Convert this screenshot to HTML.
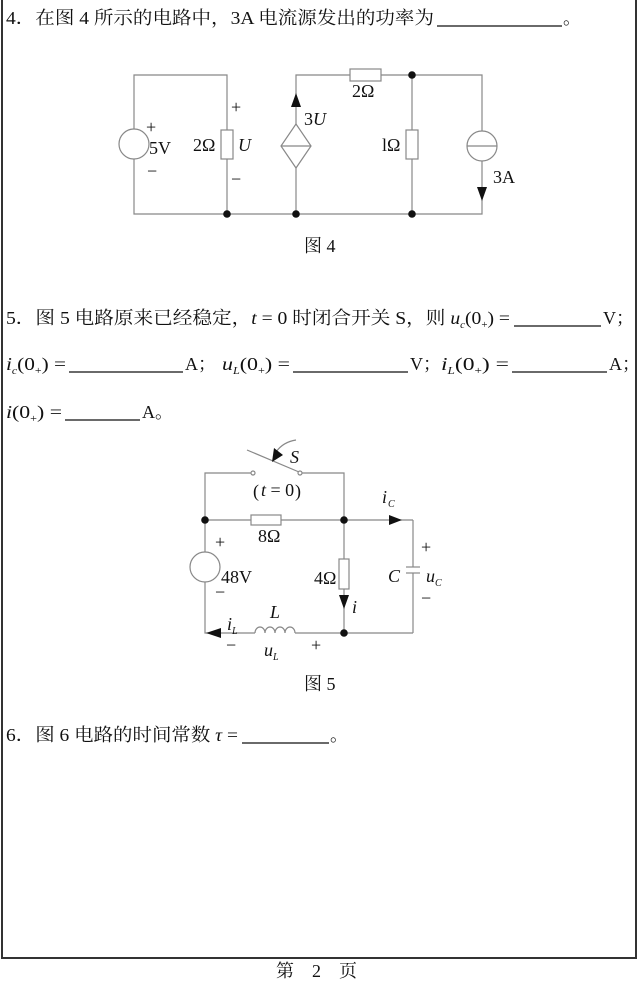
<!DOCTYPE html>
<html><head><meta charset="utf-8"><style>
html,body{margin:0;padding:0;background:#fff;}
svg{display:block;}
text{font-family:"Liberation Serif","Noto Serif CJK SC",serif;fill:#111;}
.t{font-size:18px;}
.it{font-style:italic;}
</style></head><body>
<svg width="638" height="983" viewBox="0 0 638 983" xmlns="http://www.w3.org/2000/svg">
<rect x="2" y="-2" width="634" height="960" fill="none" stroke="#333" stroke-width="2"/>
<!-- Q4 text -->
<text class="t" x="6" y="24" textLength="428" lengthAdjust="spacingAndGlyphs">4．在图 4 所示的电路中，3A 电流源发出的功率为</text>
<line x1="437" y1="26" x2="562" y2="26" stroke="#111" stroke-width="1.2"/>
<text class="t" x="563" y="24">。</text>

<!-- Circuit 4 -->
<g stroke="#888" stroke-width="1.2" fill="none">
<polyline points="227,130 227,75 134,75 134,214 482,214 482,161"/>
<line x1="227" y1="159" x2="227" y2="214"/>
<polyline points="296,124 296,75 350,75"/>
<polyline points="381,75 482,75 482,131"/>
<line x1="412" y1="75" x2="412" y2="130"/>
<line x1="412" y1="159" x2="412" y2="214"/>
<line x1="296" y1="168" x2="296" y2="214"/>
<circle cx="134" cy="144" r="15" fill="#fff"/>
<rect x="221" y="130" width="12" height="29" fill="#fff"/>
<rect x="350" y="69" width="31" height="12" fill="#fff"/>
<rect x="406" y="130" width="12" height="29" fill="#fff"/>
<polygon points="296,124 311,146 296,168 281,146" fill="#fff"/>
<line x1="281" y1="146" x2="311" y2="146"/>
<circle cx="482" cy="146" r="15" fill="#fff"/>
<line x1="467" y1="146" x2="497" y2="146"/>
</g>
<g fill="#111">
<polygon points="296,93 291,107 301,107"/>
<polygon points="482,201 477,187 487,187"/>
<circle cx="227" cy="214" r="3.8"/><circle cx="296" cy="214" r="3.8"/>
<circle cx="412" cy="214" r="3.8"/><circle cx="412" cy="75" r="3.8"/>
</g>
<text class="t" x="146" y="133">+</text>
<text class="t" x="149" y="154">5V</text>
<text class="t" x="147" y="177">−</text>
<text class="t" x="193" y="151">2Ω</text>
<text class="t it" x="238" y="151">U</text>
<text class="t" x="231" y="113">+</text>
<text class="t" x="231" y="185">−</text>
<text class="t" x="304" y="125">3<tspan class="it">U</tspan></text>
<text class="t" x="352" y="97">2Ω</text>
<text class="t" x="382" y="151">lΩ</text>
<text class="t" x="493" y="183">3A</text>
<text class="t" x="304" y="252">图 4</text>

<!-- Q5 text -->
<text class="t" x="6" y="324" textLength="504" lengthAdjust="spacingAndGlyphs">5．图 5 电路原来已经稳定，<tspan class="it">t</tspan> = 0 时闭合开关 S，则 <tspan class="it">u</tspan><tspan font-size="10" dy="4" class="it">c</tspan><tspan dy="-4">(0</tspan><tspan font-size="10" dy="4">+</tspan><tspan dy="-4">) =</tspan></text>
<line x1="514" y1="326" x2="601" y2="326" stroke="#111" stroke-width="1.2"/>
<text class="t" x="603" y="324">V；</text>

<text class="t" x="6" y="370" textLength="60" lengthAdjust="spacingAndGlyphs"><tspan class="it">i</tspan><tspan font-size="10" dy="4" class="it">c</tspan><tspan dy="-4">(0</tspan><tspan font-size="10" dy="4">+</tspan><tspan dy="-4">) =</tspan></text>
<line x1="69" y1="372" x2="183" y2="372" stroke="#111" stroke-width="1.2"/>
<text class="t" x="185" y="370">A；</text>
<text class="t" x="222" y="370" textLength="68" lengthAdjust="spacingAndGlyphs"><tspan class="it">u</tspan><tspan font-size="10" dy="4" class="it">L</tspan><tspan dy="-4">(0</tspan><tspan font-size="10" dy="4">+</tspan><tspan dy="-4">) =</tspan></text>
<line x1="293" y1="372" x2="408" y2="372" stroke="#111" stroke-width="1.2"/>
<text class="t" x="410" y="370">V；</text>
<text class="t" x="441" y="370" textLength="68" lengthAdjust="spacingAndGlyphs"><tspan class="it">i</tspan><tspan font-size="10" dy="4" class="it">L</tspan><tspan dy="-4">(0</tspan><tspan font-size="10" dy="4">+</tspan><tspan dy="-4">) =</tspan></text>
<line x1="512" y1="372" x2="607" y2="372" stroke="#111" stroke-width="1.2"/>
<text class="t" x="609" y="370">A；</text>

<text class="t" x="6" y="418" textLength="56" lengthAdjust="spacingAndGlyphs"><tspan class="it">i</tspan>(0<tspan font-size="10" dy="4">+</tspan><tspan dy="-4">) =</tspan></text>
<line x1="65" y1="420" x2="140" y2="420" stroke="#111" stroke-width="1.2"/>
<text class="t" x="142" y="418">A。</text>

<!-- Circuit 5 -->
<g stroke="#888" stroke-width="1.2" fill="none">
<polyline points="251,473 205,473 205,633 255,633"/>
<polyline points="302,473 344,473 344,559"/>
<line x1="344" y1="589" x2="344" y2="633"/>
<line x1="295" y1="633" x2="413" y2="633"/>
<line x1="205" y1="520" x2="251" y2="520"/>
<line x1="281" y1="520" x2="413" y2="520"/>
<line x1="413" y1="520" x2="413" y2="567"/>
<line x1="413" y1="573" x2="413" y2="633"/>
<line x1="406" y1="567" x2="420" y2="567"/>
<line x1="406" y1="573" x2="420" y2="573"/>
<rect x="251" y="515" width="30" height="10" fill="#fff"/>
<rect x="339" y="559" width="10" height="30" fill="#fff"/>
<circle cx="205" cy="567" r="15" fill="#fff"/>
<line x1="247" y1="450" x2="299" y2="472"/>
<path d="M296,440 Q283,442 276,452"/>
<path d="M255,633 a5,6 0 0 1 10,0 a5,6 0 0 1 10,0 a5,6 0 0 1 10,0 a5,6 0 0 1 10,0"/>
<circle cx="253" cy="473" r="2" fill="#fff"/>
<circle cx="300" cy="473" r="2" fill="#fff"/>
</g>
<g fill="#111">
<polygon points="272,462 274,448 283,455"/>
<polygon points="402,520 389,515 389,525"/>
<polygon points="344,609 339,595 349,595"/>
<polygon points="206,633 221,628 221,638"/>
<circle cx="205" cy="520" r="3.8"/><circle cx="344" cy="520" r="3.8"/>
<circle cx="344" cy="633" r="3.8"/>
</g>
<text class="t it" x="290" y="463">S</text>
<text class="t" x="253" y="497" font-size="19">(</text>
<text class="t" x="261" y="496"><tspan class="it">t</tspan> = 0</text>
<text class="t" x="295" y="497" font-size="19">)</text>
<text class="t it" x="382" y="503">i</text><text x="388" y="507" font-size="10" class="it">C</text>
<text class="t" x="258" y="542">8Ω</text>
<text class="t" x="215" y="548">+</text>
<text class="t" x="221" y="583">48V</text>
<text class="t" x="215" y="598">−</text>
<text class="t" x="314" y="584">4Ω</text>
<text class="t it" x="352" y="613">i</text>
<text class="t" x="421" y="553">+</text>
<text class="t it" x="388" y="582">C</text>
<text class="t it" x="426" y="582">u</text><text x="435" y="586" font-size="10" class="it">C</text>
<text class="t" x="421" y="604">−</text>
<text class="t it" x="227" y="630">i</text><text x="232" y="634" font-size="10" class="it">L</text>
<text class="t it" x="270" y="618">L</text>
<text class="t" x="226" y="651">−</text>
<text class="t it" x="264" y="656">u</text><text x="273" y="660" font-size="10" class="it">L</text>
<text class="t" x="311" y="651">+</text>
<text class="t" x="304" y="690">图 5</text>

<!-- Q6 -->
<text class="t" x="6" y="741" textLength="232" lengthAdjust="spacingAndGlyphs">6．图 6 电路的时间常数 <tspan class="it">τ</tspan> =</text>
<line x1="242" y1="743" x2="329" y2="743" stroke="#111" stroke-width="1.2"/>
<text class="t" x="330" y="741">。</text>

<text class="t" x="276" y="977">第　2　页</text>
</svg>
</body></html>
